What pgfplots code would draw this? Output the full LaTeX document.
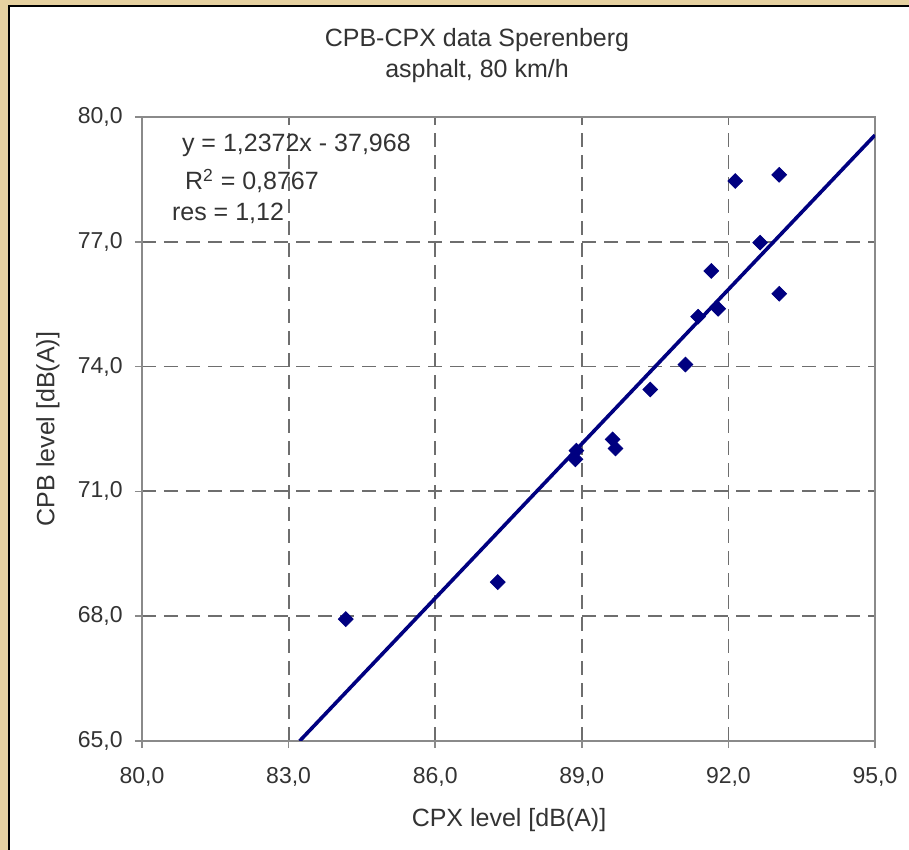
\documentclass[border=0pt]{standalone}
\usepackage{fontspec}
\setmainfont{Liberation Sans}
\usepackage{pgfplots}
\pgfplotsset{compat=1.18}

\definecolor{parch}{HTML}{E6D1A0}
\definecolor{navyline}{HTML}{000080}
\definecolor{txt}{HTML}{333333}
\definecolor{axgray}{HTML}{8A8A8A}
\definecolor{gridgray}{HTML}{6E6E6E}
\newcommand\lbl{\fontsize{12.5}{15}\selectfont}
\newcommand\tck{\fontsize{11.5}{13}\selectfont}

\begin{document}
\begin{tikzpicture}
% page background and white chart panel
\fill[parch] (-71pt,-54.5pt) rectangle (383.5pt,370.5pt);
\fill[white] (-66.5pt,-54.5pt) rectangle (383.5pt,367.5pt);
\draw[black, line width=1pt] (-66.5pt,-54.5pt) -- (-66.5pt,367.5pt) -- (383.5pt,367.5pt);

\begin{axis}[
  at={(0pt,0pt)}, anchor=south west,
  width=366.5pt, height=312pt, scale only axis,
  xmin=80, xmax=95, ymin=65, ymax=80,
  xtick={80,83,...,95}, ytick={65,68,...,80},
  /pgf/number format/.cd, fixed, fixed zerofill, precision=1, use comma, assume math mode=true,
  /pgfplots/.cd,
  ticklabel style={font=\tck, text=txt},
  xticklabel style={anchor=base, yshift=-17.5pt},
  yticklabel style={anchor=east, inner sep=0pt, xshift=-6pt},
  tick align=outside, major tick length=3.5pt,
  tick style={axgray, line width=0.8pt},
  xtick pos=bottom, ytick pos=left,
  axis line style={axgray, line width=1pt},
  grid=major,
  major grid style={gridgray, line width=0.9pt, dash pattern=on 7pt off 4pt},
  clip=true,
]
\addplot[only marks, mark=square*, mark size=2.6pt,
  mark options={rotate=45, fill=navyline, draw=navyline}]
  coordinates {
    (84.17,67.93) (87.28,68.82) (88.89,71.98) (88.87,71.77)
    (89.63,72.25) (89.69,72.03) (90.40,73.45) (91.12,74.05)
    (91.38,75.20) (91.79,75.39) (91.65,76.30) (92.14,78.46)
    (92.65,76.98) (93.04,78.61) (93.04,75.75)
  };
\addplot[navyline, line width=1.8pt] coordinates {(83.226,65) (95,79.566)};
\end{axis}

% annotations
\node[anchor=west, text=txt, font=\lbl] at (16.5pt,298pt) {y = 1,2372x - 37,968};
\node[anchor=west, text=txt, font=\lbl] at (18pt,280pt) {R\textsuperscript{2} = 0,8767};
\node[anchor=west, text=txt, font=\lbl] at (11.5pt,264pt) {res = 1,12};

% titles and axis labels
\node[text=txt, font=\lbl] at (167.5pt,350.5pt) {CPB-CPX data Sperenberg};
\node[text=txt, font=\lbl] at (167.5pt,335pt) {asphalt, 80 km/h};
\node[text=txt, font=\lbl] at (183.5pt,-39.5pt) {CPX level [dB(A)]};
\node[text=txt, font=\lbl, rotate=90] at (-47pt,156pt) {CPB level [dB(A)]};

\pgfresetboundingbox
\useasboundingbox (-71pt,-54.5pt) rectangle (383.5pt,370.5pt);
\end{tikzpicture}
\end{document}
